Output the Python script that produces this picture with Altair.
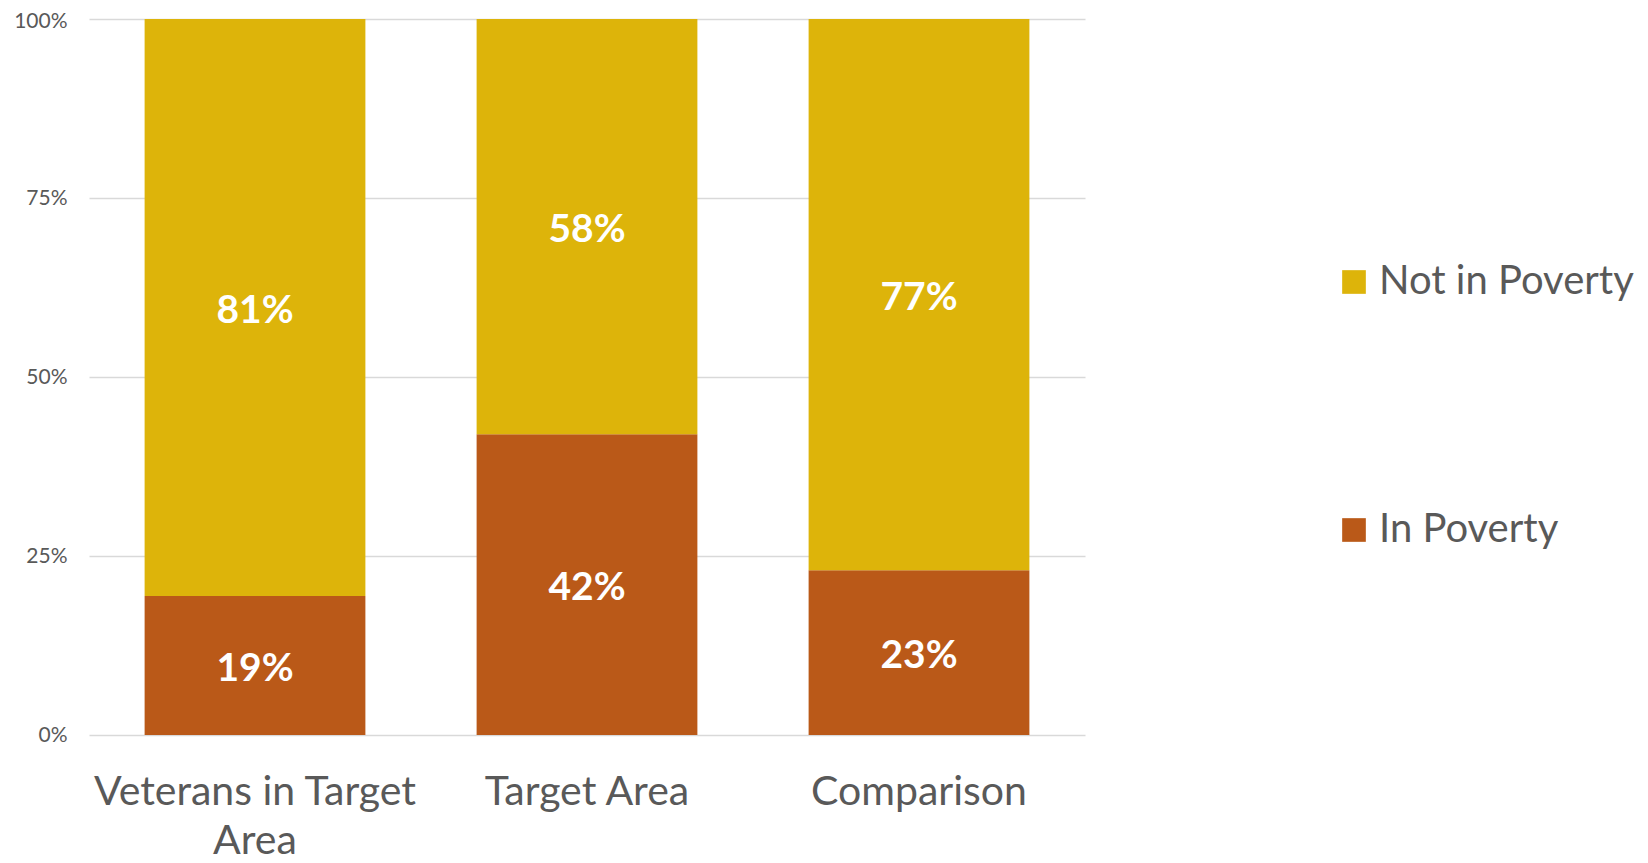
import altair as alt
import pandas as pd

categories = ["Veterans in Target Area", "Target Area", "Comparison"]
series = ["Not in Poverty", "In Poverty"]
in_poverty = [19.4, 42.0, 23.0]
not_in_poverty = [80.6, 58.0, 77.0]
colors = ["#DDB40A", "#BA5918"]
y_ticks = [0, 25, 50, 75, 100]

rows = []
for i, c in enumerate(categories):
    rows.append({"category": c, "series": "In Poverty", "value": in_poverty[i], "ord": 0})
    rows.append({"category": c, "series": "Not in Poverty", "value": not_in_poverty[i], "ord": 1})
df = pd.DataFrame(rows)

FONT = "Lato"

base = alt.Chart(df).transform_stack(
    stack="value", groupby=["category"], as_=["y0", "y1"],
    sort=[alt.SortField("ord", order="ascending")]
).transform_calculate(
    mid="(datum.y0 + datum.y1) / 2",
    label="round(datum.value) + '%'"
)

x_enc = alt.X(
    "category:N", sort=categories, title=None,
    scale=alt.Scale(paddingInner=0.335, paddingOuter=0.1675),
    axis=alt.Axis(
        labelAngle=0, labelFontSize=41, labelColor="#595959", labelFont=FONT,
        labelPadding=37, ticks=False, domain=False, labelLineHeight=49,
        labelLimit=0,
        labelExpr="datum.label == 'Veterans in Target Area' ? ['Veterans in Target', 'Area'] : datum.label",
    ),
)

bars = base.mark_bar().encode(
    x=x_enc,
    y=alt.Y(
        "y0:Q", title=None,
        scale=alt.Scale(domain=[0, 100], nice=False),
        axis=alt.Axis(
            values=y_ticks, labelExpr="datum.value + '%'", labelFontSize=21,
            labelColor="#595959", labelFont=FONT, ticks=False, domain=False,
            labelPadding=22, grid=True, gridColor="#D9D9D9", gridWidth=1.5,
            labelOffset={"condition": {"test": "datum.value == 100", "value": 2}, "value": 0},
        ),
    ),
    y2="y1:Q",
    color=alt.Color(
        "series:N",
        scale=alt.Scale(domain=series, range=colors),
        legend=alt.Legend(
            title=None, orient="none", legendX=1245, legendY=243,
            symbolType="square", symbolSize=560, symbolStrokeWidth=0,
            labelFontSize=40, labelColor="#595959", labelFont=FONT,
            rowPadding=208, labelOffset=5, padding=0, labelLimit=0,
        ),
    ),
)

texts = base.mark_text(
    color="white", fontSize=39, fontWeight="bold", font=FONT, dy=3
).encode(
    x=alt.X("category:N", sort=categories),
    y=alt.Y("mid:Q"),
    text="label:N",
)

chart = alt.layer(bars, texts).properties(
    width=996, height=716,
    autosize=alt.AutoSizeParams(type="none"),
    padding={"left": 81, "top": 11, "right": 555, "bottom": 128},
).configure_view(stroke=None)

chart.save("out.html", embed_options={"renderer": "svg", "actions": False})
